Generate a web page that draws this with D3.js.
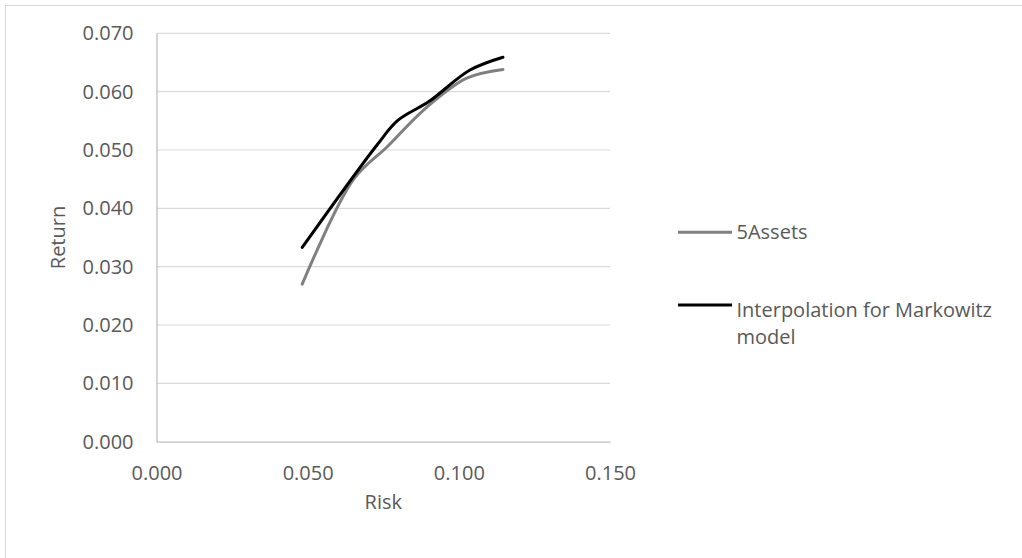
<!DOCTYPE html>
<html>
<head>
<meta charset="utf-8">
<script src="https://cdn.jsdelivr.net/npm/d3@7"></script>
<style>
  body { margin: 0; background: #fff; }
  svg { display: block; }
  svg text { font-family: "Open Sans", "Noto Sans", sans-serif; }
</style>
</head>
<body>
<div id="viz"></div>
<script>
const width = 1022;
const height = 558;
const margin = {top: 33.3, right: 412, bottom: 116.3, left: 156.5};

// series (risk, return)
const assetsRisk   = [0.0482, 0.0651, 0.0764, 0.0889, 0.1026, 0.1146];
const assetsReturn = [0.0270, 0.0449, 0.0506, 0.0571, 0.0623, 0.0638];
const markRisk     = [0.0482, 0.0730, 0.0799, 0.0901, 0.1037, 0.1146];
const markReturn   = [0.0333, 0.0509, 0.0551, 0.0583, 0.0637, 0.0659];

const xTicks = [0, 0.05, 0.10, 0.15];
const yTicks = [0, 0.01, 0.02, 0.03, 0.04, 0.05, 0.06, 0.07];
const seriesNames = ['5Assets', 'Interpolation for Markowitz model'];
const seriesColors = ['#808080', '#000000'];

const series = [
    {name: seriesNames[0], color: seriesColors[0], values: assetsRisk.map((r, i) => ({x: r, y: assetsReturn[i]}))},
    {name: seriesNames[1], color: seriesColors[1], values: markRisk.map((r, i) => ({x: r, y: markReturn[i]}))}
];

const svg = d3.select('#viz')
    .append('svg')
        .attr('width', width)
        .attr('height', height);

// chart border (runs off the right and bottom edges)
svg.append('rect')
    .attr('x', 5.5).attr('y', 5.5)
    .attr('width', width + 20).attr('height', height + 20)
    .attr('fill', 'none')
    .attr('stroke', '#d9d9d9');

const x = d3.scaleLinear()
    .domain([0, 0.15])
    .range([margin.left, width - margin.right]);
const y = d3.scaleLinear()
    .domain([0, 0.07])
    .range([height - margin.bottom, margin.top]);

// horizontal gridlines
svg.append('g')
    .selectAll('line')
    .data(yTicks.slice(1))
    .join('line')
        .attr('x1', x(0)).attr('x2', x(0.15))
        .attr('y1', d => y(d)).attr('y2', d => y(d))
        .attr('stroke', '#d9d9d9')
        .attr('stroke-width', 1.2);

// X axis
const xAxis = svg.append('g')
    .attr('transform', `translate(0,${y(0)})`)
    .call(d3.axisBottom(x).tickValues(xTicks).tickFormat(d3.format('.3f')).tickSize(0).tickPadding(24));
xAxis.select('.domain').attr('stroke', '#bfbfbf').attr('stroke-width', 1.3);

// Y axis
const yAxis = svg.append('g')
    .attr('transform', `translate(${x(0)},0)`)
    .call(d3.axisLeft(y).tickValues(yTicks).tickFormat(d3.format('.3f')).tickSize(0).tickPadding(23));
yAxis.select('.domain').attr('stroke', '#bfbfbf').attr('stroke-width', 1.3);

svg.selectAll('.tick text')
    .attr('fill', '#595959')
    .style('font-size', '20px');

// axis titles
svg.append('text')
    .attr('x', (x(0) + x(0.15)) / 2)
    .attr('y', 509)
    .attr('text-anchor', 'middle')
    .attr('fill', '#595959')
    .style('font-size', '20px')
    .text('Risk');

svg.append('text')
    .attr('transform', `translate(65,${(y(0) + y(0.07)) / 2}) rotate(-90)`)
    .attr('text-anchor', 'middle')
    .attr('fill', '#595959')
    .style('font-size', '20px')
    .text('Return');

// lines
const line = d3.line()
    .x(d => x(d.x))
    .y(d => y(d.y))
    .curve(d3.curveCatmullRom.alpha(0.5));

svg.append('g')
    .selectAll('path')
    .data(series)
    .join('path')
        .attr('d', d => line(d.values))
        .attr('fill', 'none')
        .attr('stroke', d => d.color)
        .attr('stroke-width', 3)
        .attr('stroke-linecap', 'round');

// legend
const legendY = [232.3, 305];
const legend = svg.append('g')
    .selectAll('g')
    .data(series)
    .join('g')
        .attr('transform', (d, i) => `translate(678,${legendY[i]})`);
legend.append('line')
    .attr('x1', 0).attr('x2', 54)
    .attr('stroke', d => d.color)
    .attr('stroke-width', 3);
legend.append('text')
    .attr('x', 58.5)
    .attr('y', (d, i) => i === 0 ? 6.5 : 11.5)
    .attr('fill', '#595959')
    .style('font-size', '20px')
    .each(function(d) {
        const t = d3.select(this);
        if (d.name.length > 20) {
            t.append('tspan').attr('x', 58.5).text('Interpolation for Markowitz');
            t.append('tspan').attr('x', 58.5).attr('dy', 27).text('model');
        } else {
            t.text(d.name);
        }
    });
</script>
</body>
</html>
